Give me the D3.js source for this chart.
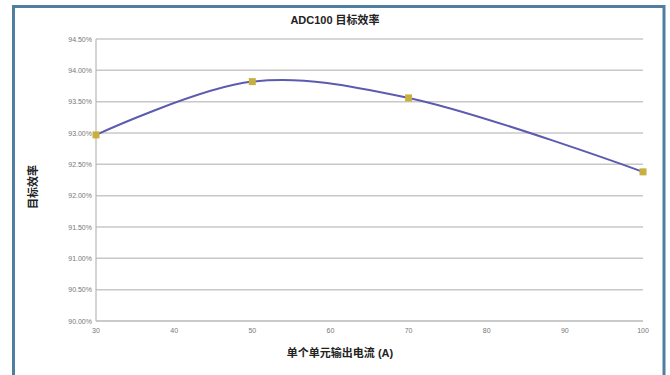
<!DOCTYPE html>
<html><head><meta charset="utf-8">
<script src="https://cdn.jsdelivr.net/npm/d3@7"></script>
<style>body{margin:0;background:#fff}svg{display:block}</style>
</head><body>
<svg id="c" width="670" height="375"></svg>
<script>
const currents = [30, 50, 70, 100];
const efficiency = [92.97, 93.82, 93.56, 92.38];
const yTicks = [90.0, 90.5, 91.0, 91.5, 92.0, 92.5, 93.0, 93.5, 94.0, 94.5];
const xTicks = [30, 40, 50, 60, 70, 80, 90, 100];
const title = "ADC100 目标效率";
const xTitle = "单个单元输出电流 (A)";
const yTitle = "目标效率";

const svg = d3.select("#c");
const font = "'Liberation Sans', Arial, 'Noto Sans CJK SC', sans-serif";

// frame
svg.append("path").attr("d","M13.5,375 L13.5,6.5 L664,6.5 L664,375")
  .attr("fill","none").attr("stroke","#4f7fa0").attr("stroke-width",3);

const x = d3.scaleLinear().domain([30,100]).range([96,643]);
const y = d3.scaleLinear().domain([90,94.5]).range([321,39]);

// gridlines
svg.append("g").selectAll("line").data(yTicks.filter(d=>d>90)).join("line")
  .attr("x1",x(30)).attr("x2",x(100)).attr("y1",d=>y(d)).attr("y2",d=>y(d))
  .attr("stroke","#c8c8c8").attr("stroke-width",1.5);

// axes lines
svg.append("line").attr("x1",x(30)).attr("x2",x(30)).attr("y1",y(94.5)).attr("y2",y(90))
  .attr("stroke","#b8b8b8").attr("stroke-width",1.2);
svg.append("line").attr("x1",x(30)).attr("x2",x(100)).attr("y1",y(90)).attr("y2",y(90))
  .attr("stroke","#b8b8b8").attr("stroke-width",1.5);

// y tick labels
svg.append("g").selectAll("text").data(yTicks).join("text")
  .attr("x",92).attr("y",d=>y(d)+2.5).attr("text-anchor","end")
  .attr("font-family",font).attr("font-size",7).attr("fill","#777")
  .text(d=>d.toFixed(2)+"%");

// x tick labels
svg.append("g").selectAll("text").data(xTicks).join("text")
  .attr("x",d=>x(d)).attr("y",333).attr("text-anchor","middle")
  .attr("font-family",font).attr("font-size",7).attr("fill","#777")
  .text(d=>d);

// line
const pts = currents.map((c,i)=>[c,efficiency[i]]);
const line = d3.line().x(d=>x(d[0])).y(d=>y(d[1])).curve(d3.curveCatmullRom.alpha(0.5));
svg.append("path").attr("d",line(pts)).attr("fill","none")
  .attr("stroke","#5b5bb0").attr("stroke-width",2);

// markers
svg.append("g").selectAll("rect").data(pts).join("rect")
  .attr("x",d=>x(d[0])-3.5).attr("y",d=>y(d[1])-3.5).attr("width",7).attr("height",7)
  .attr("fill","#c8b040");

// titles
svg.append("text").attr("x",335).attr("y",24).attr("text-anchor","middle")
  .attr("font-family",font).attr("font-size",11).attr("font-weight","bold").attr("fill","#222")
  .text(title);
svg.append("text").attr("x",340).attr("y",357).attr("text-anchor","middle")
  .attr("font-family",font).attr("font-size",11).attr("font-weight","bold").attr("fill","#222")
  .text(xTitle);
svg.append("text").attr("transform","translate(37,187) rotate(-90)").attr("text-anchor","middle")
  .attr("font-family",font).attr("font-size",11).attr("font-weight","bold").attr("fill","#222")
  .text(yTitle);
</script>
</body></html>
